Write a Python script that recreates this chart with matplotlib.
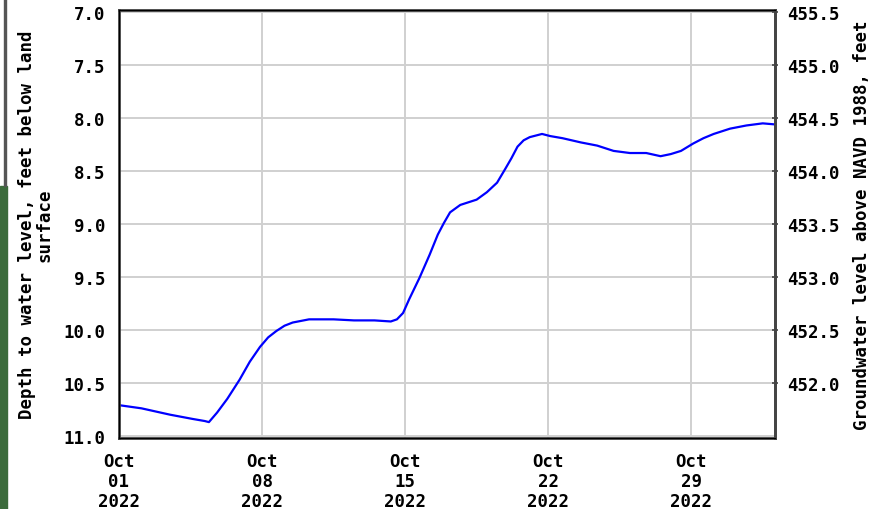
import numpy as np
import pandas as pd
import matplotlib
matplotlib.use('Agg')
import matplotlib.pyplot as plt
from matplotlib.patches import Rectangle

# Days since Oct 01 2022 00:00 and depth to water (ft below land surface)
days = [0.0, 1.1, 2.5, 3.6, 4.2, 4.4, 4.8, 5.3, 5.9, 6.4, 6.9, 7.3, 7.7, 8.1, 8.5,
        9.3, 10.5, 11.5, 12.5, 13.3, 13.6, 13.9, 14.2, 14.7, 15.2, 15.6, 15.9, 16.2,
        16.7, 17.5, 18.0, 18.5, 18.9, 19.2, 19.5, 19.8, 20.1, 20.7, 21.1, 21.7, 22.6,
        23.4, 24.2, 25.0, 25.8, 26.5, 27.0, 27.5, 28.1, 28.6, 29.1, 29.9, 30.7, 31.5, 32.1]
depth = [10.71, 10.74, 10.80, 10.84, 10.86, 10.87, 10.78, 10.65, 10.47, 10.30, 10.16,
         10.07, 10.01, 9.96, 9.93, 9.90, 9.90, 9.91, 9.91, 9.92, 9.90, 9.84, 9.71, 9.51,
         9.29, 9.10, 8.99, 8.89, 8.82, 8.77, 8.70, 8.61, 8.48, 8.38, 8.27, 8.21, 8.18,
         8.15, 8.17, 8.19, 8.23, 8.26, 8.31, 8.33, 8.33, 8.36, 8.34, 8.31, 8.24, 8.19,
         8.15, 8.10, 8.07, 8.05, 8.06]

start = pd.Timestamp('2022-10-01')
times = start + pd.to_timedelta(days, unit='D')
tick_dates = pd.to_datetime(['2022-10-01', '2022-10-08', '2022-10-15', '2022-10-22', '2022-10-29'])
left_ticks = [7.0, 7.5, 8.0, 8.5, 9.0, 9.5, 10.0, 10.5, 11.0]
right_ticks = [455.5, 455.0, 454.5, 454.0, 453.5, 453.0, 452.5, 452.0]
datum = 462.5  # elevation = datum - depth

font = {'family': 'DejaVu Sans Mono', 'weight': 'bold', 'size': 12.5}
spine_col = '#444444'

fig = plt.figure(figsize=(8.8, 5.1), dpi=100)
ax = fig.add_axes([119 / 880, 1 - 439 / 510, (775 - 119) / 880, (439 - 11) / 510])

ax.plot(times, depth, color='#0000ff', lw=1.6)

ax.set_ylim(11.02, 6.98)
ax.set_xlim(start, start + pd.Timedelta(days=32.1))
ax.set_yticks(left_ticks)
ax.set_yticklabels([f'{v:.1f}' for v in left_ticks], fontdict=font)
ax.set_xticks(tick_dates)
ax.set_xticklabels([d.strftime('%b\n%d\n%Y') for d in tick_dates], fontdict=font,
                   linespacing=1.15)
ax.grid(True, color='#d0d0d0', lw=1.4)
ax.tick_params(axis='x', length=0, pad=10)
ax.tick_params(axis='y', length=0, pad=10)
for s in ax.spines.values():
    s.set_color(spine_col)
    s.set_linewidth(2)
ax.set_ylabel('Depth to water level, feet below land\nsurface', fontdict=font,
              linespacing=0.95, labelpad=7)

ax2 = ax.twinx()
ax2.set_ylim(datum - 11.02, datum - 6.98)
ax2.set_yticks(right_ticks)
ax2.set_yticklabels([f'{v:.1f}' for v in right_ticks], fontdict=font)
ax2.tick_params(axis='y', length=5, width=1.2, color=spine_col, direction='inout', pad=6)
ax2.spines['right'].set_color(spine_col)
ax2.spines['right'].set_linewidth(2)
ax2.set_ylabel('Groundwater level above NAVD 1988, feet', fontdict=font, labelpad=10)

# page edge left over from the screenshot
fig.patches.append(Rectangle((0, 0), 7 / 880, 1 - 187 / 510, transform=fig.transFigure,
                             color='#3b6b3b', zorder=-1))
fig.patches.append(Rectangle((4 / 880, 1 - 187 / 510), 1.5 / 880, 187 / 510,
                             transform=fig.transFigure, color='#555555', zorder=-1))

fig.savefig('out.png', dpi=100)
